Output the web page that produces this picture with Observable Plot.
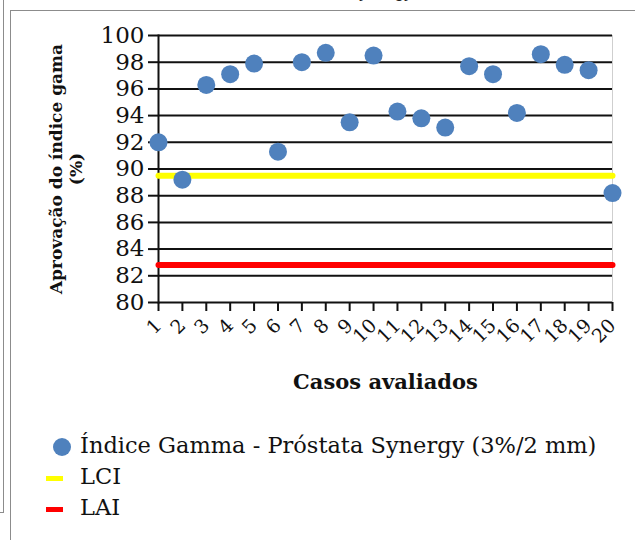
<!DOCTYPE html>
<html>
<head>
<meta charset="utf-8">
<script src="https://cdn.jsdelivr.net/npm/d3@7"></script>
<script src="https://cdn.jsdelivr.net/npm/@observablehq/plot@0.6"></script>
<style>
  html, body { margin: 0; padding: 0; background: #fff; }
  body { width: 635px; height: 540px; position: relative; overflow: hidden; font-family: "DejaVu Serif", serif; }
  #chart { position: absolute; left: 0; top: 0; }
  .line { position: absolute; background: #8c8c8c; }
  #legend { position: absolute; left: 0; top: 0; font-size: 22.5px; color: #111; }
  .row { position: absolute; white-space: nowrap; }
  #title { position: absolute; top: -19px; left: 0; width: 413px; text-align: right; font-family: "Liberation Sans", sans-serif; font-size: 18px; color: #222; white-space: nowrap; }
</style>
</head>
<body>
<div id="title"></div>
<div class="line" style="left:3px;top:0;width:1px;height:512px"></div>
<div class="line" style="left:0;top:512px;width:4px;height:1px"></div>
<div class="line" style="left:10px;top:10px;width:1px;height:530px"></div>
<div class="line" style="left:10px;top:10px;width:625px;height:1px"></div>
<div id="chart"></div>
<div id="legend"></div>
<script>
const titleText = "Índice Gamma - Próstata Synergy";
const cases = [1,2,3,4,5,6,7,8,9,10,11,12,13,14,15,16,17,18,19,20];
const gamma = [92.0,89.2,96.3,97.1,97.9,91.3,98.0,98.7,93.5,98.5,94.3,93.8,93.1,97.7,97.1,94.2,98.6,97.8,97.4,88.2];
const lci = 89.5;
const lai = 82.8;
const yTicks = [80,82,84,86,88,90,92,94,96,98,100];
const seriesNames = ["Índice Gamma - Próstata Synergy (3%/2 mm)", "LCI", "LAI"];
const colors = ["#4F81BD", "#FFFF00", "#FF0000"];
const yLabel = ["Aprovação do índice gama", "(%)"];
const xLabel = "Casos avaliados";

document.getElementById("title").textContent = titleText;

const points = cases.map((c, i) => ({case: c, value: gamma[i]}));
const lciLine = cases.map(c => ({case: c, value: lci}));
const laiLine = cases.map(c => ({case: c, value: lai}));

const serif = "'DejaVu Serif', 'Liberation Serif', serif";
const chart = Plot.plot({
  width: 635,
  height: 420,
  marginLeft: 158,
  marginRight: 23,
  marginTop: 35,
  marginBottom: 118,
  style: {fontFamily: serif, color: "#111", background: "transparent", overflow: "visible"},
  x: {domain: [1, 20], label: null},
  y: {domain: [80, 100], label: null},
  marks: [
    Plot.ruleY(yTicks, {stroke: "#111", strokeWidth: 2}),
    Plot.frame({anchor: "right", stroke: "#cfcfcf", strokeWidth: 1}),
    Plot.frame({anchor: "left", stroke: "#111", strokeWidth: 2}),
    Plot.axisY({ticks: yTicks, tickSize: 10, tickPadding: 4, fontSize: 23, tickFormat: d => String(d), stroke: "#111", strokeWidth: 2, label: null}),
    Plot.axisX({ticks: cases, tickSize: 9, tickPadding: 11, tickRotate: -45, fontSize: 19, tickFormat: d => String(d), stroke: "#111", strokeWidth: 2, label: null}),
    Plot.line(lciLine, {x: "case", y: "value", stroke: colors[1], strokeWidth: 6}),
    Plot.line(laiLine, {x: "case", y: "value", stroke: colors[2], strokeWidth: 6}),
    Plot.dot(points, {x: "case", y: "value", r: 9, fill: colors[0], stroke: "none"}),
    Plot.text([xLabel], {frameAnchor: "bottom", dy: 86, fontSize: 21, fontWeight: "bold", fill: "#111"}),
    Plot.text([yLabel[0]], {frameAnchor: "left", textAnchor: "middle", dx: -102, rotate: -90, fontSize: 17, fontWeight: "bold", fill: "#111"}),
    Plot.text([yLabel[1]], {frameAnchor: "left", textAnchor: "middle", dx: -82, rotate: -90, fontSize: 17, fontWeight: "bold", fill: "#111"})
  ]
});
document.getElementById("chart").appendChild(chart);

const legend = document.getElementById("legend");
const rows = [
  {top: 432, html: `<svg width="20" height="20" style="position:absolute;left:52px;top:5px"><circle cx="10" cy="10" r="9" fill="${colors[0]}"/></svg><span style="position:absolute;left:80px">${seriesNames[0]}</span>`},
  {top: 463, html: `<div style="position:absolute;left:46px;top:13px;width:17px;height:5px;background:${colors[1]}"></div><span style="position:absolute;left:80px">${seriesNames[1]}</span>`},
  {top: 494, html: `<div style="position:absolute;left:46px;top:13px;width:17px;height:5px;background:${colors[2]}"></div><span style="position:absolute;left:80px">${seriesNames[2]}</span>`}
];
rows.forEach(r => {
  const d = document.createElement("div");
  d.className = "row";
  d.style.top = r.top + "px";
  d.innerHTML = r.html;
  legend.appendChild(d);
});
</script>
</body>
</html>
